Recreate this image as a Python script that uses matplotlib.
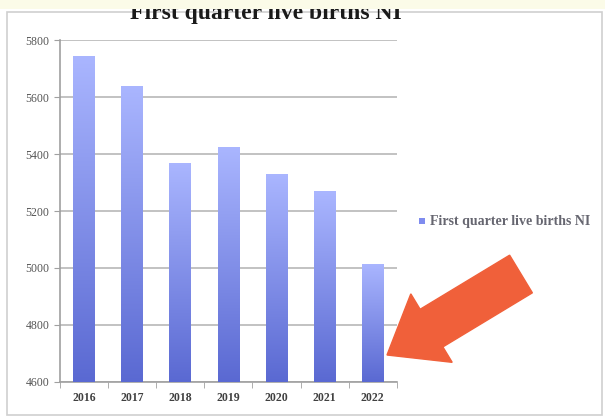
import numpy as np
import matplotlib
matplotlib.use("Agg")
from matplotlib import pyplot as plt
from matplotlib.patches import FancyArrow, Rectangle

years = ["2016", "2017", "2018", "2019", "2020", "2021", "2022"]
births = [5745, 5640, 5370, 5425, 5330, 5270, 5015]
series_name = "First quarter live births NI"

plt.rcParams['font.family'] = ['Liberation Serif', 'DejaVu Serif']

fig = plt.figure(figsize=(6.05, 4.17), dpi=100)
fig.patch.set_facecolor('white')

# slide frame
fig.patches.append(Rectangle((0.0116, 0.005), 0.983, 0.966, transform=fig.transFigure,
                             facecolor='none', edgecolor='#cfcfcf', lw=1.2, zorder=1))

ax = fig.add_axes([0.099, 0.084, 0.557, 0.82])
x = np.arange(len(years))
bars = ax.bar(x, births, width=0.45, color='none', edgecolor='none', zorder=3)

# vertical gradient inside each bar
grad = np.linspace(0, 1, 256).reshape(-1, 1)
cmap = matplotlib.colors.LinearSegmentedColormap.from_list('g', ['#5a69d2', '#aab6ff'])
for b in bars:
    im = ax.imshow(grad, cmap=cmap, origin='lower', aspect='auto',
                   extent=[b.get_x(), b.get_x() + b.get_width(), 4600, b.get_height()],
                   zorder=3)
    im.set_clip_path(b)

ax.set_xlim(-0.5, len(years) - 0.5)
ax.set_ylim(4600, 5800)
ax.set_yticks(np.arange(4600, 5801, 200))
ax.set_xticks(x)
ax.set_xticklabels(years)
ax.set_xticks(np.arange(-0.5, len(years), 1), minor=True)
ax.tick_params(axis='x', which='major', length=0, pad=7, labelsize=8.5, labelcolor='#404040')
ax.tick_params(axis='x', which='minor', length=4, color='#a0a0a0', direction='out')
ax.tick_params(axis='y', length=4, color='#a0a0a0', labelsize=8.5, labelcolor='#555555')
for lab in ax.get_xticklabels():
    lab.set_fontweight('bold')
ax.grid(axis='y', color='#b8b8b8', lw=1.2, zorder=1)
for s in ['top', 'right']:
    ax.spines[s].set_visible(False)
for s in ['left', 'bottom']:
    ax.spines[s].set_color('#a0a0a0')
    ax.spines[s].set_linewidth(1.2)

# title, top part cut off by the screen edge
fig.text(0.44, 0.955, series_name, ha='center', va='baseline',
         fontsize=17, fontweight='bold', color='#1a1a1a')
fig.patches.append(Rectangle((0, 0.978), 1, 0.022, transform=fig.transFigure,
                             facecolor='#fbfbe8', edgecolor='none', zorder=10))

# legend
fig.patches.append(Rectangle((0.693, 0.462), 0.01, 0.015, transform=fig.transFigure,
                             facecolor='#7f8cef', edgecolor='none'))
fig.text(0.711, 0.469, series_name, ha='left', va='center', fontsize=10,
         fontweight='bold', color='#666670')

# orange arrow (inch coordinates so widths are not distorted)
fig.patches.append(FancyArrow(5.21, 1.43, -1.34, -0.81, width=0.44,
                              head_width=0.8, head_length=0.52,
                              length_includes_head=True, transform=fig.dpi_scale_trans,
                              facecolor='#f0603a', edgecolor='#f0603a', zorder=5))

fig.savefig('out.png', dpi=100)
